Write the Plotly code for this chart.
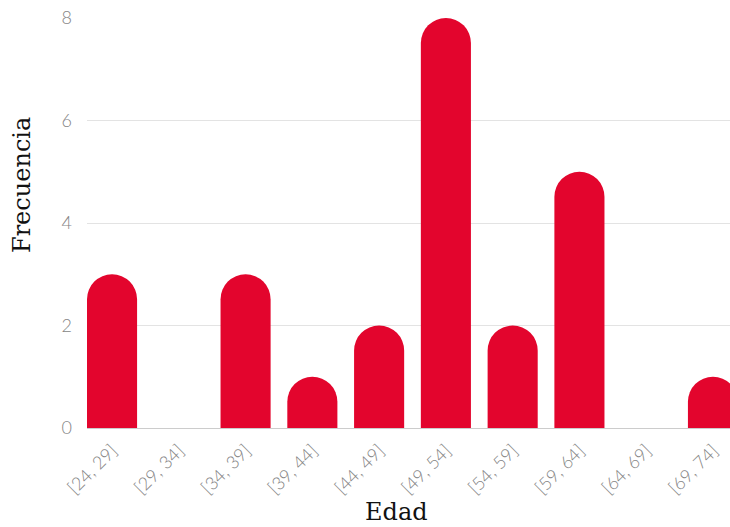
import plotly.graph_objects as go

categories = ["[24, 29]", "[29, 34]", "[34, 39]", "[39, 44]", "[44, 49]",
              "[49, 54]", "[54, 59]", "[59, 64]", "[64, 69]", "[69, 74]"]
frecuencia = [3, 0, 3, 1, 2, 8, 2, 5, 0, 1]
y_ticks = [0, 2, 4, 6, 8]

W, H = 730, 527
L, R, T, B = 87, 0, 18, 99
pw, ph = W - L - R, H - T - B

def px_to_paper(px, py):
    return (px - L) / pw, (H - B - py) / ph

fig = go.Figure(go.Bar(
    x=list(range(len(categories))), y=frecuencia,
    marker=dict(color="#E3052D", cornerradius="50%", line=dict(width=0)),
    width=0.75,
))

ex, ey = px_to_paper(396, 512)
fx, fy = px_to_paper(22, 185)

tick_font = dict(family="Lato", size=18, color="#858585", weight=300)

fig.update_layout(
    width=W, height=H,
    margin=dict(l=L, r=R, t=T, b=B, pad=0),
    paper_bgcolor="white", plot_bgcolor="white",
    showlegend=False,
    xaxis=dict(
        tickmode="array", tickvals=list(range(len(categories))), ticktext=categories,
        range=[-0.375, 9.255], tickangle=-45,
        tickfont=tick_font,
        showgrid=False, zeroline=False, showline=True, linecolor="#cccccc", linewidth=1,
        ticks="", fixedrange=True, ticklabelstandoff=4,
    ),
    yaxis=dict(
        range=[0, 8], tickvals=y_ticks,
        tickfont=tick_font,
        showgrid=True, gridcolor="#e3e3e3", gridwidth=1,
        zeroline=False, showline=False, ticks="", ticklen=0,
        ticklabelstandoff=14,
    ),
    annotations=[
        dict(text="Edad", x=ex, y=ey, xref="paper", yref="paper",
             showarrow=False, xanchor="center", yanchor="middle",
             font=dict(family="DejaVu Serif", size=24, color="#111111")),
        dict(text="Frecuencia", x=fx, y=fy, xref="paper", yref="paper",
             showarrow=False, xanchor="center", yanchor="middle", textangle=-90,
             font=dict(family="DejaVu Serif", size=24, color="#111111")),
    ],
)

fig.write_html("out.html")
